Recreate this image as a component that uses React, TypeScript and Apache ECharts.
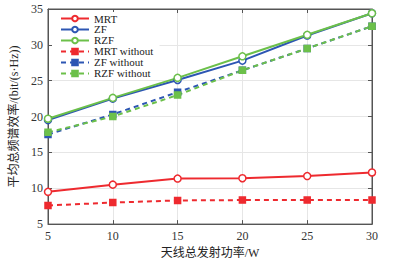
import React, { useEffect, useRef } from "react";
import * as echarts from "echarts";

const powers = [5, 10, 15, 20, 25, 30];
const mrt = [9.5, 10.5, 11.35, 11.4, 11.7, 12.2];
const zf = [19.5, 22.5, 25.1, 27.8, 31.3, 34.4];
const rzf = [19.7, 22.6, 25.4, 28.4, 31.4, 34.4];
const mrtWithout = [7.6, 8.0, 8.3, 8.35, 8.35, 8.35];
const zfWithout = [17.5, 20.3, 23.4, 26.45, 29.5, 32.6];
const rzfWithout = [17.8, 20.0, 23.0, 26.45, 29.5, 32.6];
const seriesNames = ["MRT", "ZF", "RZF", "MRT without", "ZF without", "RZF without"];
const xTicks = [5, 10, 15, 20, 25, 30];
const yTicks = [5, 10, 15, 20, 25, 30, 35];

const RED = "#ee2a2f";
const BLUE = "#2d56b3";
const GREEN = "#6cc04a";
const SERIF = "'Liberation Serif', 'Times New Roman', 'Noto Sans CJK SC', serif";

export default function App() {
  const ref = useRef<HTMLDivElement>(null);
  useEffect(() => {
    document.body.style.margin = "0";
    const chart = echarts.init(ref.current!, null, { renderer: "svg" });
    const mk = (name: string, data: number[], color: string, dashed: boolean) => ({
      name,
      type: "line",
      data: powers.map((p, i) => [p, data[i]]),
      symbol: dashed ? "rect" : "circle",
      symbolSize: dashed ? 6 : 7,
      showSymbol: true,
      itemStyle: { color: dashed ? color : "#fff", borderColor: color, borderWidth: 1.5 },
      lineStyle: { color, width: 2, type: dashed ? [5, 4] : "solid" },
      z: dashed ? 2 : 3,
    });
    const axisFont = { fontFamily: SERIF, fontSize: 12, color: "#333" };
    const tick = { show: true, inside: true, length: 4, lineStyle: { color: "#555" } };
    chart.setOption({
      animation: false,
      backgroundColor: "#fff",
      grid: { left: 48, right: 21, top: 9, bottom: 34, show: true, borderColor: "#555", borderWidth: 1 },
      legend: {
        show: true,
        orient: "vertical",
        left: 52,
        top: 12,
        data: seriesNames,
        itemWidth: 28,
        itemHeight: 7,
        itemGap: 0,
        padding: [1, 6, 1, 8],
        backgroundColor: "#fff",
        textStyle: { fontFamily: SERIF, fontSize: 11, color: "#222" },
      },
      xAxis: [
        {
          type: "value",
          min: 5,
          max: 30,
          interval: 5,
          axisLine: { show: true, lineStyle: { color: "#555" } },
          axisTick: tick,
          splitLine: { show: true, lineStyle: { color: "#e6e6e6" } },
          axisLabel: { ...axisFont, margin: 6, formatter: (v: number) => (xTicks.includes(v) ? String(v) : "") },
          name: "天线总发射功率/W",
          nameLocation: "middle",
          nameGap: 19,
          nameTextStyle: { fontFamily: SERIF, fontSize: 12, color: "#222" },
        },
        {
          type: "value",
          position: "top",
          min: 5,
          max: 30,
          interval: 5,
          axisLine: { show: true, lineStyle: { color: "#555" } },
          axisTick: tick,
          splitLine: { show: false },
          axisLabel: { show: false },
        },
      ],
      yAxis: [
        {
          type: "value",
          min: 5,
          max: 35,
          interval: 5,
          axisLine: { show: true, lineStyle: { color: "#555" } },
          axisTick: tick,
          splitLine: { show: true, lineStyle: { color: "#e6e6e6" } },
          axisLabel: { ...axisFont, margin: 5, formatter: (v: number) => (yTicks.includes(v) ? String(v) : "") },
          name: "平均总频谱效率/(bit/(s·Hz))",
          nameLocation: "middle",
          nameGap: 22,
          nameTextStyle: { fontFamily: SERIF, fontSize: 12, color: "#222" },
        },
        {
          type: "value",
          position: "right",
          min: 5,
          max: 35,
          interval: 5,
          axisLine: { show: true, lineStyle: { color: "#555" } },
          axisTick: tick,
          splitLine: { show: false },
          axisLabel: { show: false },
        },
      ],
      series: [
        mk("MRT", mrt, RED, false),
        mk("ZF", zf, BLUE, false),
        mk("RZF", rzf, GREEN, false),
        mk("MRT without", mrtWithout, RED, true),
        mk("ZF without", zfWithout, BLUE, true),
        mk("RZF without", rzfWithout, GREEN, true),
      ],
    });
    return () => chart.dispose();
  }, []);
  return <div ref={ref} style={{ width: 393, height: 264 }} />;
}
